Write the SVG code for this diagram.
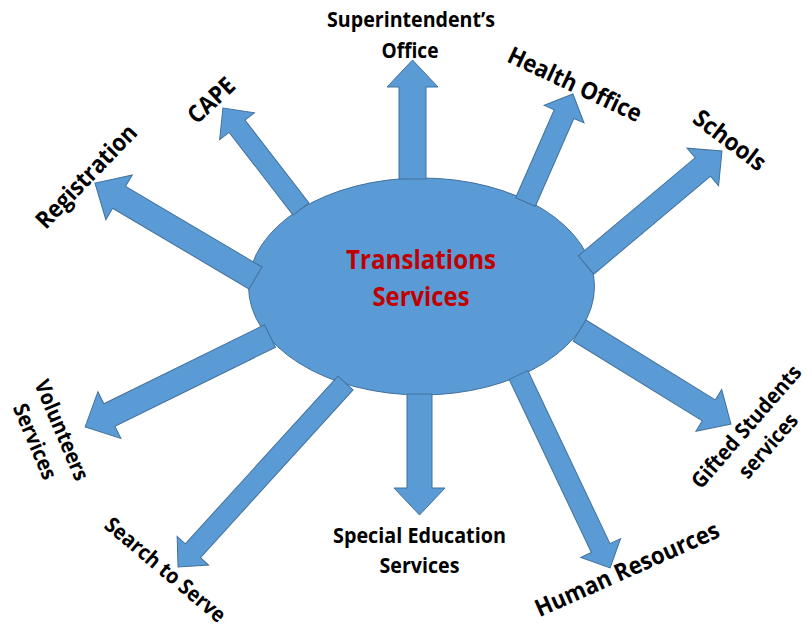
<svg xmlns="http://www.w3.org/2000/svg" width="812" height="635" viewBox="0 0 812 635">
<style>
.shape{fill:#5B9BD5;stroke:#41719C;stroke-width:1}
.lbl{font-family:"Open Sans","Liberation Sans",sans-serif;font-weight:bold;fill:#000;text-anchor:middle}
.l24{font-size:21.5px}
.l27{font-size:24px}
.ctr{font-family:"Open Sans","Liberation Sans",sans-serif;font-weight:bold;font-size:27px;fill:#C00000;text-anchor:middle}
</style>
<rect width="812" height="635" fill="#fff"/>
<g id="translations-services">
<ellipse class="shape" cx="421.5" cy="286.5" rx="173" ry="108.5"/>
<text class="ctr" x="421" y="269" textLength="150" lengthAdjust="spacingAndGlyphs">Translations</text>
<text class="ctr" x="421" y="306" textLength="97" lengthAdjust="spacingAndGlyphs">Services</text>
</g>
<g id="connectors">
<polygon class="shape" points="399,179 399,87 387,87 412.5,60 438,87 426,87 426,179"/>
<polygon class="shape" points="407,394 432,394 432,488 445,488 419.5,515 394,488 407,488"/>
<polygon class="shape" transform="translate(525.5,202) rotate(-66.3)" points="0,-10.75 96,-10.75 96,-21.75 118,0 96,21.75 96,10.75 0,10.75"/>
<polygon class="shape" transform="translate(586,265) rotate(-40)" points="0,-12 152.5,-12 152.5,-24.5 177.5,0 152.5,24.5 152.5,12 0,12"/>
<polygon class="shape" transform="translate(301,209) rotate(-127.7)" points="0,-10 104.6,-10 104.6,-22 127.6,0 104.6,22 104.6,10 0,10"/>
<polygon class="shape" transform="translate(255.5,278) rotate(-149.4)" points="0,-12.75 158.5,-12.75 158.5,-26 186.5,0 158.5,26 158.5,12.75 0,12.75"/>
<polygon class="shape" transform="translate(270,336) rotate(153.8)" points="0,-12.5 179,-12.5 179,-26 206,0 179,26 179,12.5 0,12.5"/>
<polygon class="shape" transform="translate(345.5,383) rotate(132.3)" points="0,-10.25 226.8,-10.25 226.8,-21.25 248.8,0 226.8,21.25 226.8,10.25 0,10.25"/>
<polygon class="shape" transform="translate(518.5,375) rotate(64.6)" points="0,-10.3 191.6,-10.3 191.6,-22 213.6,0 191.6,22 191.6,10.3 0,10.3"/>
<polygon class="shape" transform="translate(579.5,330.5) rotate(31.7)" points="0,-12.3 152,-12.3 152,-24.5 178,0 152,24.5 152,12.3 0,12.3"/>
</g>
<g id="superintendent">
<text class="lbl l24" x="411" y="27" textLength="168" lengthAdjust="spacingAndGlyphs">Superintendent’s</text>
<text class="lbl l24" x="410" y="58" textLength="57" lengthAdjust="spacingAndGlyphs">Office</text>
</g>
<g id="special-education">
<text class="lbl l24" x="419.5" y="543" textLength="173" lengthAdjust="spacingAndGlyphs">Special Education</text>
<text class="lbl l24" x="419.5" y="573" textLength="80" lengthAdjust="spacingAndGlyphs">Services</text>
</g>
<g id="health-office" transform="translate(575,84) rotate(25)">
<text class="lbl l27" x="0" y="8.6" textLength="145" lengthAdjust="spacingAndGlyphs">Health Office</text>
</g>
<g id="schools" transform="translate(730,140) rotate(37)">
<text class="lbl l27" x="0" y="8.6" textLength="84" lengthAdjust="spacingAndGlyphs">Schools</text>
</g>
<g id="cape" transform="translate(211,100) rotate(-43)">
<text class="lbl l27" x="0" y="8.6" textLength="55" lengthAdjust="spacingAndGlyphs">CAPE</text>
</g>
<g id="registration" transform="translate(86,176) rotate(-46)">
<text class="lbl l27" x="0" y="8.6" textLength="134" lengthAdjust="spacingAndGlyphs">Registration</text>
</g>
<g id="volunteers" transform="translate(62,430) rotate(67)">
<text class="lbl l24" x="0" y="7.7" textLength="107" lengthAdjust="spacingAndGlyphs">Volunteers</text>
<text class="lbl l24" x="0" y="36.7" textLength="80" lengthAdjust="spacingAndGlyphs">Services</text>
</g>
<g id="search-to-serve" transform="translate(165.5,569.5) rotate(40)">
<text class="lbl l24" x="0" y="7.7" textLength="150" lengthAdjust="spacingAndGlyphs">Search to Serve</text>
</g>
<g id="human-resources" transform="translate(627,569) rotate(-24)">
<text class="lbl l27" x="0" y="8.6" textLength="199" lengthAdjust="spacingAndGlyphs">Human Resources</text>
</g>
<g id="gifted-students" transform="translate(746,426.5) rotate(-49)">
<text class="lbl l24" x="0" y="7.7" textLength="155" lengthAdjust="spacingAndGlyphs">Gifted Students</text>
<text class="lbl l24" x="0" y="36.7" textLength="78" lengthAdjust="spacingAndGlyphs">services</text>
</g>
</svg>
